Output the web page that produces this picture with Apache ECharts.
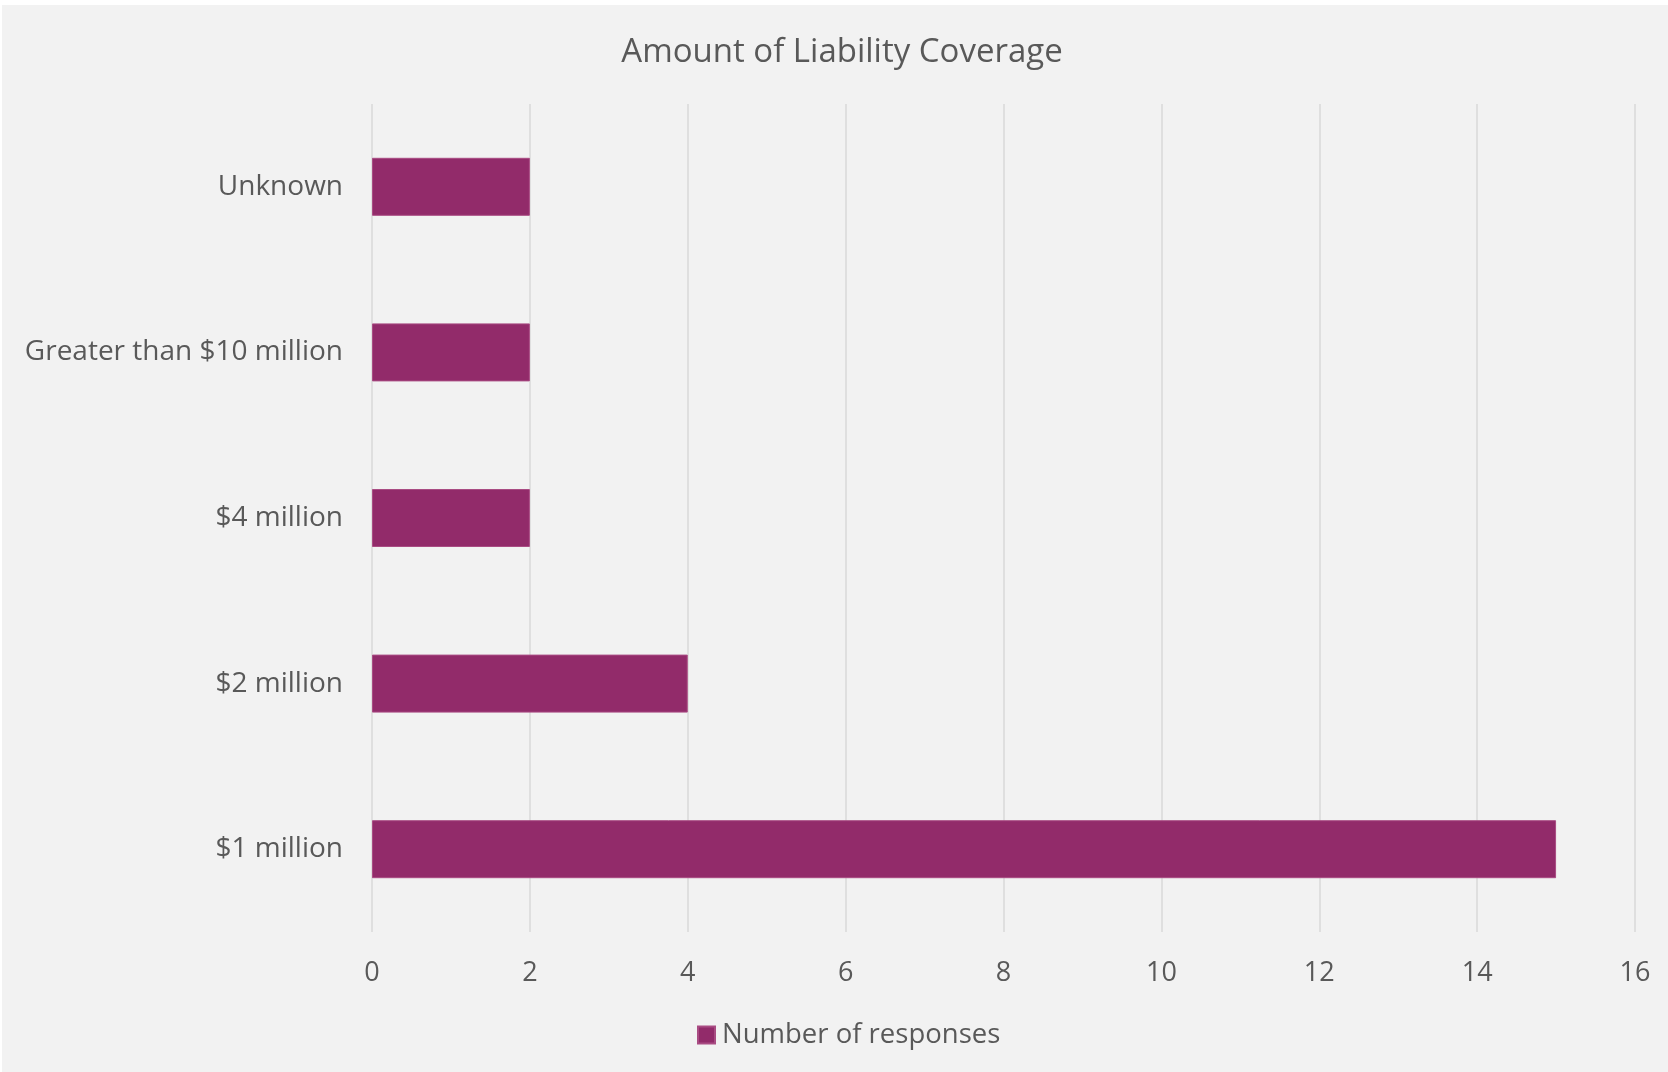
<!DOCTYPE html>
<html>
<head>
<meta charset="utf-8">
<script src="https://cdn.jsdelivr.net/npm/echarts@6/dist/echarts.min.js"></script>
<style>
html,body{margin:0;padding:0;background:#ffffff;}
#chart{position:absolute;left:2px;top:5px;width:1666px;height:1067px;}
</style>
</head>
<body>
<div id="chart"></div>
<script>
const categories = ["$1 million", "$2 million", "$4 million", "Greater than $10 million", "Unknown"];
const responses = [15, 4, 2, 2, 2];
const seriesName = "Number of responses";
const titleText = "Amount of Liability Coverage";

const FONT = "Open Sans";
const chart = echarts.init(document.getElementById('chart'));
chart.setOption({
  backgroundColor: '#F2F2F2',
  animation: false,
  title: {
    text: titleText,
    left: 835,
    textAlign: 'center',
    top: 26,
    textStyle: {fontFamily: FONT, fontSize: 33, fontWeight: 'normal', color: '#595959'}
  },
  legend: {
    bottom: 18,
    left: 690,
    icon: 'rect',
    itemWidth: 17,
    itemHeight: 17,
    itemGap: 10,
    textStyle: {fontFamily: FONT, fontSize: 27.5, color: '#595959', padding: [0, 0, 0, 2]},
    data: [seriesName]
  },
  grid: {left: 370, right: 33, top: 99, bottom: 140, containLabel: false},
  xAxis: {
    type: 'value',
    min: 0, max: 16, interval: 2,
    axisLine: {show: false},
    axisTick: {show: false},
    splitLine: {lineStyle: {color: '#D9D9D9', width: 1.5}},
    axisLabel: {fontFamily: FONT, fontSize: 27, color: '#595959', margin: 28}
  },
  yAxis: {
    type: 'category',
    data: categories,
    axisLine: {show: false},
    axisTick: {show: false},
    axisLabel: {fontFamily: FONT, fontSize: 28, color: '#595959', margin: 29}
  },
  series: [{
    name: seriesName,
    type: 'bar',
    data: responses,
    barWidth: 58,
    itemStyle: {color: '#922B6A', borderColor: '#A94C83', borderWidth: 1}
  }]
});
</script>
</body>
</html>
